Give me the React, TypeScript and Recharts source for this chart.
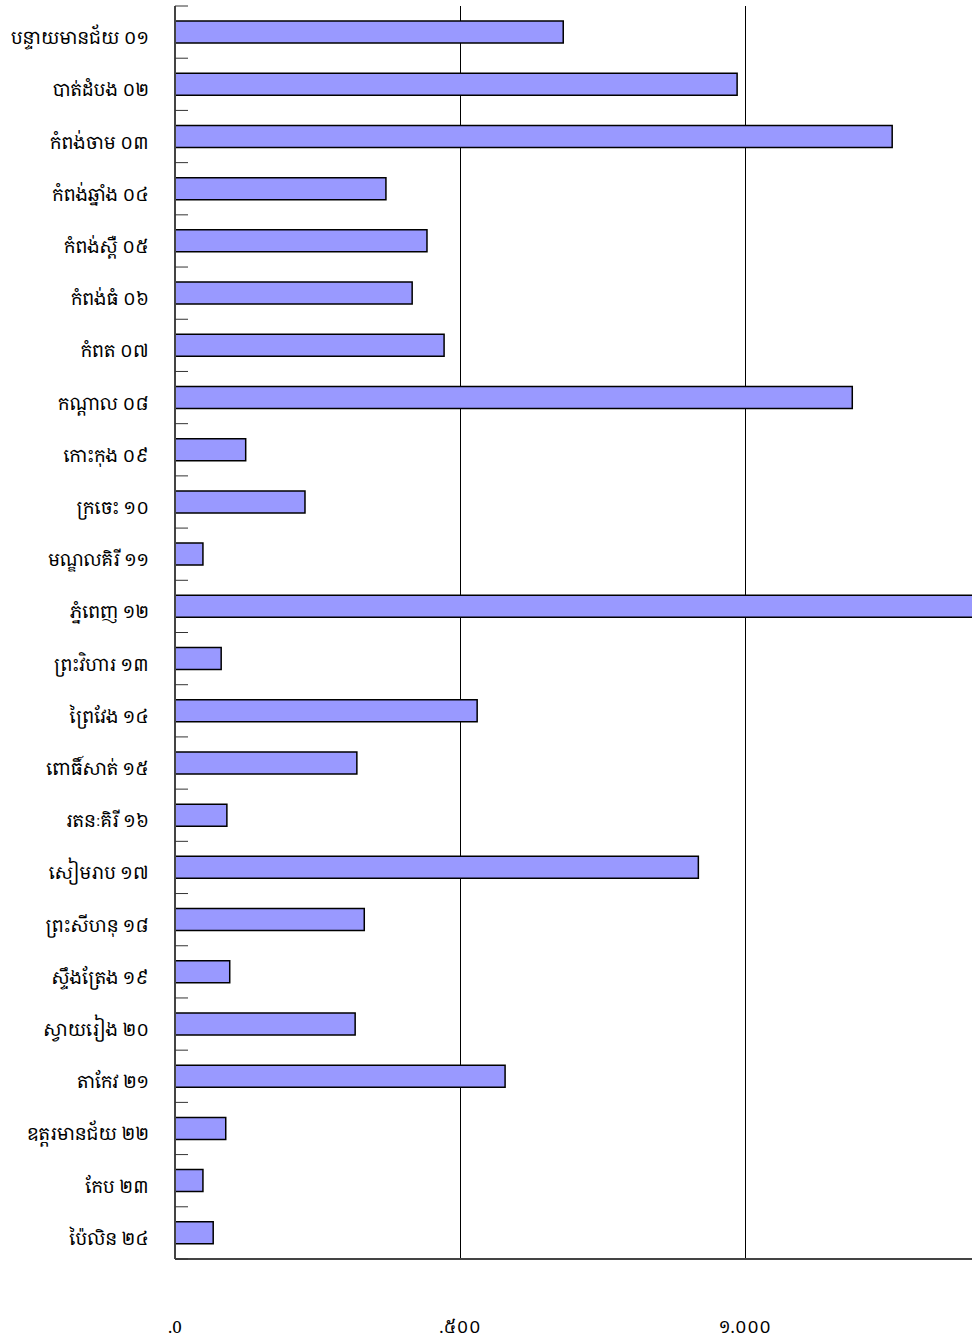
import React from 'react';
import { BarChart, Bar, XAxis, YAxis, CartesianGrid } from 'recharts';

const provinces = [
  'បន្ទាយមានជ័យ ០១',
  'បាត់ដំបង ០២',
  'កំពង់ចាម ០៣',
  'កំពង់ឆ្នាំង ០៤',
  'កំពង់ស្ពឺ ០៥',
  'កំពង់ធំ ០៦',
  'កំពត ០៧',
  'កណ្ដាល ០៨',
  'កោះកុង ០៩',
  'ក្រចេះ ១០',
  'មណ្ឌលគិរី ១១',
  'ភ្នំពេញ ១២',
  'ព្រះវិហារ ១៣',
  'ព្រៃវែង ១៤',
  'ពោធិ៍សាត់ ១៥',
  'រតនៈគិរី ១៦',
  'សៀមរាប ១៧',
  'ព្រះសីហនុ ១៨',
  'ស្ទឹងត្រែង ១៩',
  'ស្វាយរៀង ២០',
  'តាកែវ ២១',
  'ឧត្ដរមានជ័យ ២២',
  'កែប ២៣',
  'ប៉ៃលិន ២៤',
];

const values = [
  681, 986, 1258, 370, 442, 416, 472, 1188, 124, 228, 49, 1500,
  81, 530, 319, 91, 918, 332, 96, 316, 579, 89, 49, 67,
];

const xDomain = [0, 1398];
const xTicks = [0, 500, 1000];
const xTickLabels = ['.0', '.៥០០', '១.០០០'];
const gridValues = [500, 1000];

const data = provinces.map((name, i) => ({ name, value: values[i] }));

const FONT = '"Khmer OS", "Khmer OS System", "Noto Serif Khmer", "Noto Sans Khmer", "Noto Sans", sans-serif';

function gridGenerator(props: any) {
  const { xAxis, offset } = props || {};
  const s = xAxis && xAxis.scale;
  const toPx = (v: number) => {
    if (typeof s === 'function') return s(v);
    if (s && typeof s.map === 'function') return s.map(v);
    const left = offset ? offset.left : 175;
    const w = offset ? offset.width : 797;
    return left + ((v - xDomain[0]) / (xDomain[1] - xDomain[0])) * w;
  };
  return gridValues.map((v) => Math.round(toPx(v)) + 0.5);
}

function CategoryTick(props: any) {
  const { x, y, payload, index } = props;
  const half = payload && typeof payload.offset === 'number' ? payload.offset : 0;
  const axisX = x + 26;
  return (
    <g>
      <text
        x={x}
        y={y + 5}
        textAnchor="end"
        dominantBaseline="central"
        fill="#000"
        fontSize={18}
        fontFamily={FONT}
      >
        {payload.value}
      </text>
      {index === 0 && (
        <line x1={axisX} x2={axisX + 13} y1={y - half} y2={y - half} stroke="#333" strokeWidth={1} />
      )}
      <line x1={axisX} x2={axisX + 13} y1={y + half} y2={y + half} stroke="#333" strokeWidth={1} />
    </g>
  );
}

export default function App() {
  return (
    <div style={{ position: 'absolute', left: 0, top: 0, width: 972, height: 1338, background: '#fff', overflow: 'hidden' }}>
      <BarChart
        width={972}
        height={1338}
        data={data}
        layout="vertical"
        margin={{ top: 6, right: 0, bottom: 0, left: 0 }}
      >
        <CartesianGrid
          yAxisId="cat"
          horizontal={false}
          stroke="#000"
          strokeWidth={1}
          verticalCoordinatesGenerator={gridGenerator}
        />
        <XAxis
          type="number"
          domain={xDomain}
          ticks={xTicks}
          allowDataOverflow
          tickFormatter={(v: number) => xTickLabels[xTicks.indexOf(v)]}
          axisLine={{ stroke: '#444', strokeWidth: 2 }}
          tickLine={false}
          tickMargin={56}
          height={79}
          tick={{ fill: '#000', fontSize: 17, fontFamily: FONT }}
        />
        <XAxis
          xAxisId="top"
          orientation="top"
          type="number"
          domain={xDomain}
          height={0}
          axisLine={{ stroke: '#999', strokeWidth: 2 }}
          tick={false}
          tickLine={false}
        />
        <YAxis
          yAxisId="cat"
          type="category"
          dataKey="name"
          width={175}
          axisLine={{ stroke: '#444', strokeWidth: 2 }}
          tickLine={false}
          tickSize={0}
          tickMargin={26}
          interval={0}
          tick={<CategoryTick />}
        />
        <Bar
          yAxisId="cat"
          dataKey="value"
          fill="#9999ff"
          stroke="#000"
          strokeWidth={1.5}
          barSize={22}
          isAnimationActive={false}
        />
      </BarChart>
    </div>
  );
}
